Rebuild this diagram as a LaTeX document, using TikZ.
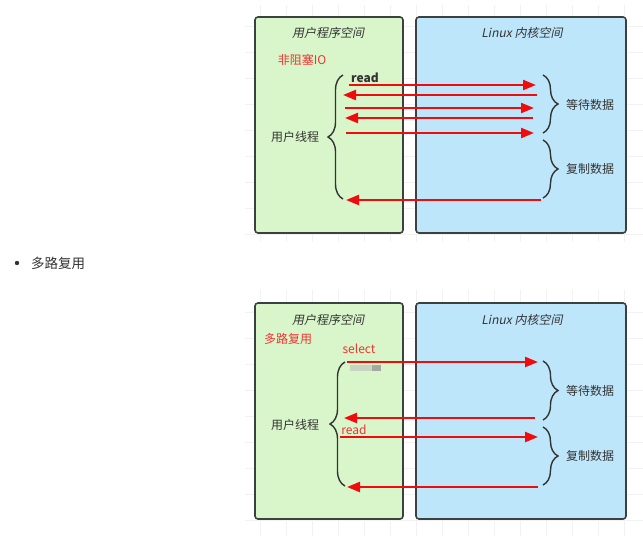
\documentclass[tikz,border=0pt]{standalone}
\usepackage{fontspec}
\setmainfont{Noto Sans CJK SC}
\newfontfamily\slantfont{Noto Sans CJK SC}[FakeSlant=0.2]
\usepackage{tikz}
\usetikzlibrary{arrows.meta}
\usetikzlibrary{arrows.meta,decorations.pathreplacing}

\definecolor{usergreen}{RGB}{216,246,202}
\definecolor{kernelblue}{RGB}{190,230,251}
\definecolor{boxline}{RGB}{60,64,62}
\definecolor{labelred}{RGB}{238,52,52}
\definecolor{arrowred}{RGB}{240,12,12}
\definecolor{textgray}{RGB}{51,51,51}

\tikzset{
	spacebox/.style={draw=boxline, line width=1.6pt, rounded corners=3pt},
	headtext/.style={font=\slantfont\fontsize{12}{14}\selectfont, text=textgray},
	plaintext/.style={font=\fontsize{12}{14}\selectfont, text=textgray},
	redtext/.style={font=\fontsize{12}{14}\selectfont, text=labelred},
	callarrow/.style={draw=arrowred, line width=2.3pt, -{Triangle[length=13pt,width=10pt]}},
	curly/.style={draw=textgray, line width=1.4pt, decorate, decoration={brace, amplitude=15pt}},
}

\begin{document}
\begin{tikzpicture}[x=1pt,y=-1pt]
		\useasboundingbox (0,0) rectangle (643,536);
		% faint canvas grid
		\draw[black!5, line width=0.4pt, step=26pt] (245,5) grid (643,242);
		\draw[black!5, line width=0.4pt, step=26pt] (245,290) grid (643,536);

		% ---- non-blocking IO ----
		\draw[spacebox, fill=usergreen] (255,17) rectangle (403,233);
		\draw[spacebox, fill=kernelblue] (416,17) rectangle (626,233);
		\node[headtext] (userA) at (328,33) {用户程序空间};
		\node[headtext] (kernA) at (522,33) {Linux 内核空间};
		\node[redtext] (nbio) at (302,60) {非阻塞IO};
		% thread brace and stages
		\draw[curly] (343,199) -- (343,75);
		\node[plaintext] (thrA) at (295,137) {用户线程};
		\draw[curly] (543,75) -- (543,133);
		\draw[curly] (543,140) -- (543,198);
		\node[plaintext] (waitA) at (590,105) {等待数据};
		\node[plaintext] (copyA) at (590,169) {复制数据};
		% repeated read calls
		\foreach \i/\yy/\xa/\xb in {1/85/349/536, 2/95/537/343, 3/108/345/534, 4/118/533/345, 5/133/346/534, 6/200/541/346} {
			\coordinate (a\i s) at (\xa,\yy);
			\coordinate (a\i e) at (\xb,\yy);
			\draw[callarrow] (a\i s) -- (a\i e);
		}
		\node[plaintext, font=\bfseries\fontsize{12}{14}\selectfont] (readA) at (365,78) {read};

		% bullet
		\fill[textgray] (17,263) circle (2.2pt);
		\node[plaintext, font=\fontsize{13.5}{15}\selectfont] (mux) at (58,263) {多路复用};

		% ---- multiplexing ----
		\draw[spacebox, fill=usergreen] (255,303) rectangle (403,519);
		\draw[spacebox, fill=kernelblue] (416,303) rectangle (626,519);
		\node[headtext] (userB) at (328,320) {用户程序空间};
		\node[headtext] (kernB) at (522,320) {Linux 内核空间};
		\node[redtext] (muxB) at (288,339) {多路复用};
		\draw[curly] (345,486) -- (345,362);
		\node[plaintext] (thrB) at (295,425) {用户线程};
		\draw[curly] (543,361) -- (543,420);
		\draw[curly] (543,427) -- (543,485);
		\node[plaintext] (waitB) at (590,391) {等待数据};
		\node[plaintext] (copyB) at (590,456) {复制数据};
		% select then read
		\foreach \i/\yy/\xa/\xb in {1/362/347/538, 2/418/535/344, 3/437/340/538, 4/487/538/347} {
			\coordinate (b\i s) at (\xa,\yy);
			\coordinate (b\i e) at (\xb,\yy);
			\draw[callarrow] (b\i s) -- (b\i e);
		}
		\node[redtext] (selB) at (359,349) {select};
		\node[redtext] (readB) at (354,430) {read};
		% blurred mark under select
		\fill[black!25, opacity=0.6] (350,365) rectangle (381,371);
		\fill[black!45, opacity=0.6] (372,365) rectangle (381,371);
	\end{tikzpicture}
\end{document}
